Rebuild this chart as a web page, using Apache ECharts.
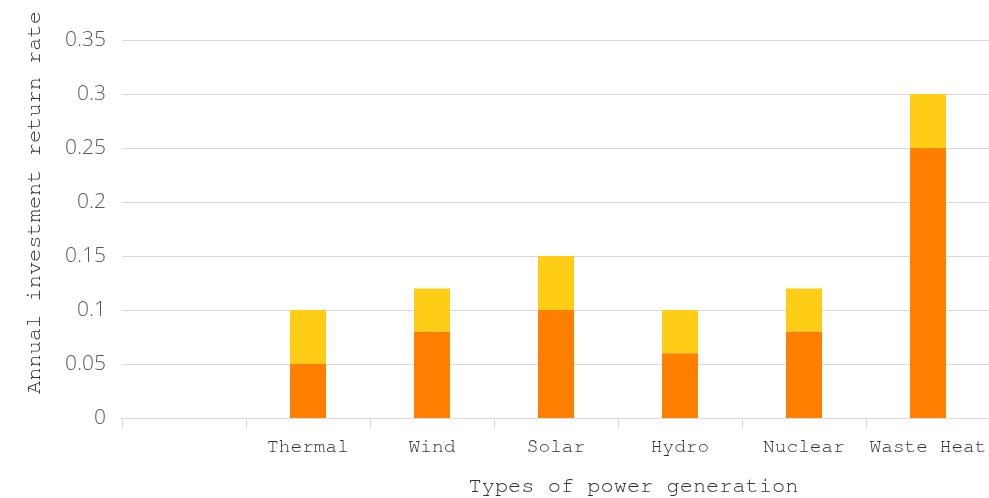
<!DOCTYPE html>
<html>
<head>
<meta charset="utf-8">
<script src="https://cdn.jsdelivr.net/npm/echarts@6/dist/echarts.min.js"></script>
<style>html,body{margin:0;padding:0;background:#fff}#c{width:989px;height:498px}</style>
</head>
<body>
<div id="c"></div>
<script>
const categories = ['', 'Thermal', 'Wind', 'Solar', 'Hydro', 'Nuclear', 'Waste Heat'];
const baseValues = [null, 0.05, 0.08, 0.10, 0.06, 0.08, 0.25];
const extraValues = [null, 0.05, 0.04, 0.05, 0.04, 0.04, 0.05];
const yTicks = [0, 0.05, 0.1, 0.15, 0.2, 0.25, 0.3, 0.35];

const monoSerif = 'FreeMono, "Courier New", monospace';
const chart = echarts.init(document.getElementById('c'), null, {renderer: 'canvas'});
chart.setOption({
  animation: false,
  grid: {left: 122, right: -1, top: 40, bottom: 80, containLabel: false, outerBoundsMode: 'none'},
  xAxis: {
    type: 'category',
    data: categories,
    boundaryGap: true,
    name: 'Types of power generation',
    nameLocation: 'middle',
    nameGap: 56,
    nameTextStyle: {fontFamily: monoSerif, fontSize: 22, color: '#333333', padding: [0, 0, 0, 155]},
    axisLine: {lineStyle: {color: '#d9d9d9', width: 1}},
    axisTick: {show: true, length: 10, lineStyle: {color: '#d9d9d9'}},
    axisLabel: {fontFamily: monoSerif, fontSize: 19.5, color: '#333333', margin: 18, interval: 0}
  },
  yAxis: {
    type: 'value',
    min: yTicks[0],
    max: yTicks[yTicks.length - 1],
    interval: 0.05,
    name: 'Annual investment return rate',
    nameLocation: 'middle',
    nameGap: 78,
    nameTextStyle: {fontFamily: monoSerif, fontSize: 22, color: '#333333', padding: [0, 0, 0, 53]},
    axisLine: {show: false},
    axisTick: {show: false},
    splitLine: {lineStyle: {color: '#d9d9d9', width: 1}},
    axisLabel: {fontFamily: 'Open Sans', fontSize: 21, fontWeight: 300, color: '#595959', margin: 16,
      formatter: v => String(Math.round(v * 100) / 100)}
  },
  series: [
    {type: 'bar', stack: 's', data: baseValues, barWidth: 36, itemStyle: {color: '#FF8000'}, z: 2},
    {type: 'bar', stack: 's', data: extraValues, barWidth: 36, itemStyle: {color: '#FFCD16'}, z: 2}
  ]
});
</script>
</body>
</html>
